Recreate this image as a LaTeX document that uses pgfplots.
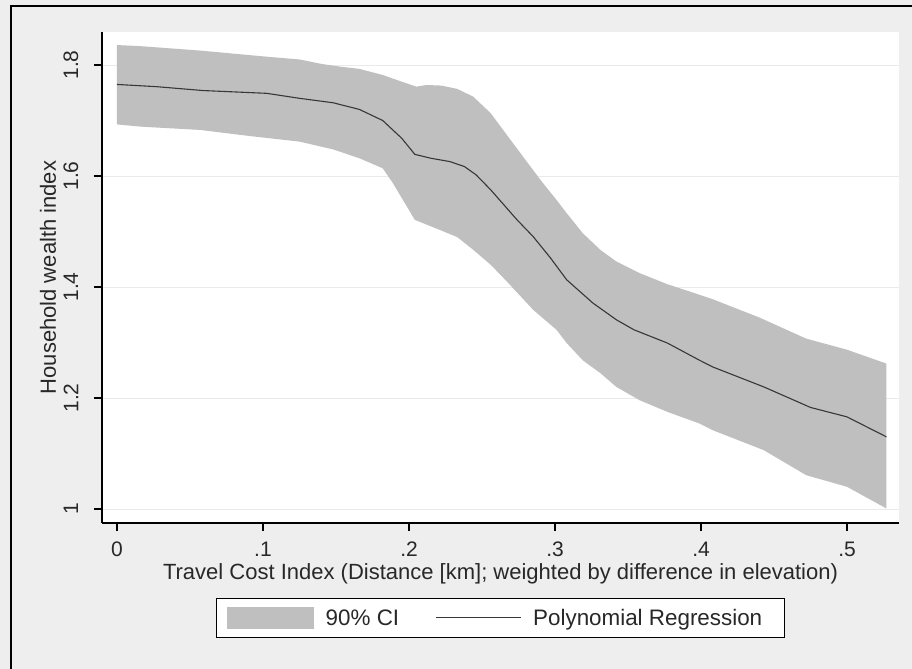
\documentclass[border=0pt]{standalone}
\usepackage{fontspec}
\setmainfont{Liberation Sans}
\usepackage{pgfplots}
\pgfplotsset{compat=1.18}
\definecolor{bggray}{RGB}{238,238,238}
\definecolor{bandgray}{RGB}{191,191,191}
\definecolor{gridgray}{RGB}{234,234,234}
\definecolor{linegray}{RGB}{55,55,55}
\definecolor{textgray}{RGB}{40,40,40}
\begin{document}
\begin{tikzpicture}
\fill[bggray] (0,0) rectangle (912bp,669bp);
\draw[black, line width=2.5bp] (11bp,0) -- (11bp,663bp) -- (912bp,663bp);
\begin{axis}[
  at={(102bp,146bp)}, anchor=south west,
  scale only axis, width=797bp, height=491bp,
  xmin=-0.01027, xmax=0.5356, ymin=0.9748, ymax=1.8595,
  axis x line*=bottom, axis y line*=left,
  axis line style={black, line width=1.2bp, -},
  axis background/.style={fill=white},
  xtick={0,0.1,0.2,0.3,0.4,0.5},
  xticklabels={0,.1,.2,.3,.4,.5},
  ytick={1,1.2,1.4,1.6,1.8},
  yticklabels={1,1.2,1.4,1.6,1.8},
  tick align=outside, major tick length=8bp,
  tick style={black, line width=1.2bp},
  ymajorgrids, grid style={gridgray, line width=1bp},
  /pgf/number format/assume math mode=true,
  tick label style={font=\fontsize{21bp}{24bp}\selectfont, text=textgray, inner sep=0pt},
  xticklabel style={anchor=center, yshift=-18bp},
  yticklabel style={xshift=-23bp, rotate=90, anchor=center},
  every axis x label/.style={at={(axis description cs:0.5,-0.1039)}, anchor=center, inner sep=0pt},
  every axis y label/.style={at={(axis description cs:-0.0678,0.5)}, rotate=90, anchor=center},
  label style={font=\fontsize{22bp}{26bp}\selectfont, text=textgray},
  xlabel={Travel Cost Index (Distance [km]; weighted by difference in elevation)},
  ylabel={Household wealth index},
  legend columns=2,
  legend style={at={(axis description cs:0.5,-0.1527)}, anchor=north,
    draw=black, line width=1bp, fill=white, inner xsep=10bp, inner ysep=8.5bp,
    font=\fontsize{22.4bp}{26bp}\selectfont, text=textgray,
    nodes={inner xsep=12bp, inner ysep=2bp},
    /tikz/every even column/.append style={column sep=24bp}},
]
\addplot[fill=bandgray, draw=none,
  legend image code/.code={\fill[bandgray] (0bp,-11bp) rectangle (87bp,11bp);}]
  coordinates {
(0.000,1.836) (0.016,1.834) (0.057,1.826) (0.1025,1.815) (0.125,1.810) (0.140,1.802)
(0.153,1.797) (0.166,1.793) (0.182,1.782) (0.195,1.770) (0.205,1.761) (0.212,1.764)
(0.222,1.763) (0.233,1.757) (0.244,1.743) (0.256,1.713) (0.267,1.674) (0.290,1.593)
(0.301,1.557) (0.308,1.533) (0.319,1.497) (0.331,1.467) (0.342,1.446) (0.358,1.425)
(0.377,1.405) (0.399,1.386) (0.408,1.378) (0.440,1.345) (0.472,1.307) (0.500,1.287)
(0.527,1.262)
(0.527,1.001) (0.500,1.040) (0.472,1.061) (0.443,1.106) (0.408,1.142) (0.399,1.154)
(0.377,1.175) (0.358,1.196) (0.342,1.220) (0.331,1.245) (0.319,1.268) (0.308,1.299)
(0.301,1.323) (0.285,1.359) (0.267,1.410) (0.256,1.440) (0.244,1.467) (0.233,1.490)
(0.221,1.503) (0.204,1.521) (0.189,1.587) (0.182,1.614) (0.166,1.632) (0.148,1.648)
(0.125,1.662) (0.091,1.672) (0.057,1.683) (0.016,1.689) (0.000,1.693)} -- cycle;
\addlegendentry{90\% CI}
\addplot[linegray, line width=1.1bp, mark=none,
  legend image code/.code={\draw[linegray, line width=1bp] (0bp,0bp) -- (85bp,0bp);}]
  coordinates {
(0.000,1.765) (0.027,1.761) (0.059,1.754) (0.1025,1.749) (0.125,1.740) (0.148,1.732)
(0.166,1.720) (0.182,1.700) (0.195,1.668) (0.204,1.639) (0.215,1.632) (0.228,1.626)
(0.238,1.617) (0.246,1.602) (0.256,1.575) (0.267,1.542) (0.274,1.521) (0.285,1.491)
(0.297,1.452) (0.308,1.413) (0.326,1.371) (0.342,1.341) (0.354,1.323) (0.377,1.299)
(0.399,1.268) (0.408,1.256) (0.443,1.220) (0.475,1.183) (0.500,1.166) (0.527,1.130)};
\addlegendentry{Polynomial Regression}
\end{axis}
\pgfresetboundingbox
\path (0,0) rectangle (912bp,669bp);
\end{tikzpicture}
\end{document}
